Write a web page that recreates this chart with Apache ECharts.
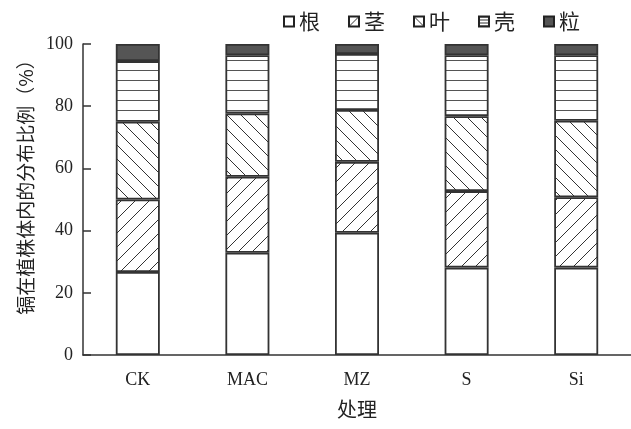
<!DOCTYPE html>
<html>
<head>
<meta charset="utf-8">
<script src="https://cdn.jsdelivr.net/npm/echarts@6/dist/echarts.min.js"></script>
<style>
  html, body { margin: 0; padding: 0; background: #fff; }
  #chart { width: 631px; height: 429px; }
</style>
</head>
<body>
<div id="chart"></div>
<script>
// Treatments and the share (%) of Cd found in each plant part
const categories = ['CK', 'MAC', 'MZ', 'S', 'Si'];
const root  = [26.7, 32.9, 39.3, 28.1, 28.1];   // 根
const stem  = [23.3, 24.4, 22.8, 24.6, 22.6];   // 茎
const leaf  = [25.0, 20.4, 16.7, 24.1, 24.6];   // 叶
const husk  = [19.5, 18.7, 18.0, 19.6, 21.1];   // 壳
const grain = [5.5, 3.6, 3.2, 3.6, 3.6];        // 粒
const parts = ['根', '茎', '叶', '壳', '粒'];
const yTicks = [0, 20, 40, 60, 80, 100];

// Fill patterns drawn on small tiles
function tile(w, h, draw) {
  const c = document.createElement('canvas');
  c.width = w; c.height = h;
  const ctx = c.getContext('2d');
  ctx.fillStyle = '#fff';
  ctx.fillRect(0, 0, w, h);
  draw(ctx);
  return { image: c, repeat: 'repeat' };
}
function diagonal(forward, s) {
  return tile(s, s, ctx => {
    ctx.strokeStyle = '#333';
    ctx.lineWidth = 1;
    ctx.beginPath();
    for (const k of [-s, 0, s]) {
      if (forward) { ctx.moveTo(k, s); ctx.lineTo(k + s, 0); }
      else { ctx.moveTo(k, 0); ctx.lineTo(k + s, s); }
    }
    ctx.stroke();
  });
}
function horizontal(step, color) {
  return tile(4, step, ctx => {
    ctx.fillStyle = color;
    ctx.fillRect(0, 0, 4, 1);
  });
}

const barFills = ['#fff', diagonal(true, 14), diagonal(false, 14), horizontal(10, '#555'), '#555'];
const iconFills = ['#fff', diagonal(true, 10), diagonal(false, 10), horizontal(3, '#333'), '#555'];

const serif = 'Liberation Serif';
const cjk = 'Noto Sans CJK SC';
const seriesData = [root, stem, leaf, husk, grain];

const chart = echarts.init(document.getElementById('chart'), null, { renderer: 'canvas' });
chart.setOption({
  animation: false,
  backgroundColor: '#fff',
  legend: {
    left: 278, top: 6,
    itemWidth: 10, itemHeight: 10, itemGap: 28,
    icon: 'rect',
    textStyle: { fontFamily: cjk, fontSize: 21, color: '#222' },
    data: parts.map((p, i) => ({
      name: p,
      itemStyle: { color: iconFills[i], borderColor: '#222', borderWidth: 2 }
    }))
  },
  grid: { left: 83, top: 44, width: 550, bottom: 74, containLabel: false },
  xAxis: {
    type: 'category',
    data: categories,
    name: '处理',
    nameLocation: 'middle',
    nameGap: 44,
    nameTextStyle: { fontFamily: cjk, fontSize: 20, color: '#222' },
    axisLine: { lineStyle: { color: '#333', width: 1.5 } },
    axisTick: { show: false },
    axisLabel: { fontFamily: serif, fontSize: 18, color: '#222', margin: 16 }
  },
  yAxis: {
    type: 'value',
    min: yTicks[0], max: yTicks[yTicks.length - 1], interval: 20,
    name: '镉在植株体内的分布比例（%）',
    nameLocation: 'middle',
    nameGap: 45,
    nameTextStyle: { fontFamily: cjk, fontSize: 19, color: '#222', padding: [0, 0, 0, 34] },
    axisLine: { show: true, lineStyle: { color: '#333', width: 1.5 } },
    axisTick: { show: true, inside: true, length: 8, lineStyle: { color: '#333', width: 1.5 } },
    axisLabel: { fontFamily: serif, fontSize: 18, color: '#222', margin: 10 },
    splitLine: { show: false }
  },
  series: parts.map((p, i) => ({
    name: p,
    type: 'bar',
    stack: 'total',
    data: seriesData[i],
    barWidth: 44,
    itemStyle: { color: barFills[i], borderColor: '#333', borderWidth: 1.8 },
    emphasis: { disabled: true }
  }))
});
</script>
</body>
</html>
